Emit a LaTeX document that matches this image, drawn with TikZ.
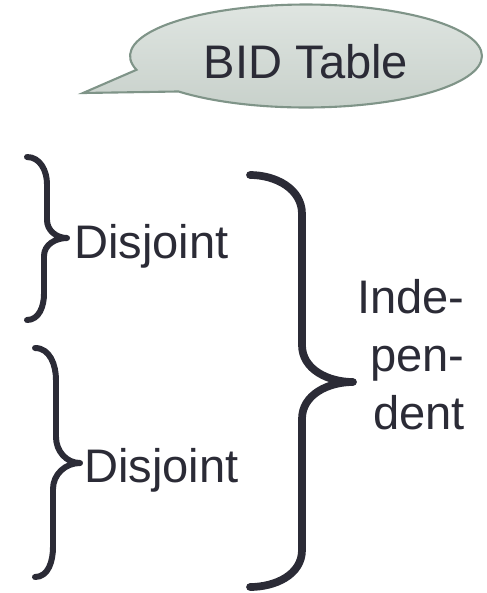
\documentclass[tikz,border=0pt]{standalone}
\usepackage{fontspec}
\setmainfont{Liberation Sans}
\usepackage{xcolor}
\definecolor{ink}{HTML}{2B2B36}
\definecolor{bubbleedge}{HTML}{7F9488}
\definecolor{bubbletop}{HTML}{DFE5E1}
\definecolor{bubblebottom}{HTML}{C7D0CA}
\usetikzlibrary{shapes.callouts,positioning}

\begin{document}
\begin{tikzpicture}[
  x={(0.02cm,0cm)},
  y={(0cm,-0.02cm)},
  brace/.style={ink,line width=3.4pt,line cap=round,line join=round},
  bigbrace/.style={brace,line width=4.4pt},
  word/.style={
    text=ink,
    font=\fontsize{26.8pt}{33pt}\selectfont,
    inner sep=0pt
  },
  bubble/.style={
    ellipse callout,
    draw=bubbleedge,
    line width=1.2pt,
    top color=bubbletop,
    bottom color=bubblebottom,
    minimum width=7.04cm,
    minimum height=2.06cm,
    inner sep=0pt,
    callout pointer arc=28,
    text=ink,
    font=\fontsize{26.8pt}{33pt}\selectfont,
    text height=0.88cm,
    text depth=0cm
  }
]
\useasboundingbox (0,0) rectangle (487,593);

% Speech bubble
\coordinate (Ptip) at (83,93);
\node[bubble,callout absolute pointer={(Ptip)}] (bid) at (306,56) {BID Table};

% Brace tips
\coordinate (TipA) at (67,238);
\coordinate (TipB) at (80,463);
\coordinate (TipC) at (353,382);

% Upper small brace
\draw[brace] (27,157) to[out=0,in=90] (47,184) -- (47,220)
  to[out=-90,in=180] (TipA) to[out=180,in=90] (44,256) -- (44,294)
  to[out=-90,in=0] (27,320);

% Lower small brace
\draw[brace] (35,348) to[out=0,in=90] (56,380) -- (56,437)
  to[out=-90,in=180] (TipB) to[out=180,in=90] (53,489) -- (53,547)
  to[out=-90,in=0] (35,577);

% Big brace
\draw[bigbrace] (250,175) to[out=0,in=90] (302,214) -- (302,345)
  to[out=-90,in=180] (TipC) to[out=180,in=90] (302,419) -- (302,550)
  to[out=-90,in=0] (250,587);

% Labels
\node[word,anchor=base west] (disA) at (74,258) {Disjoint};
\node[word,anchor=base west] (disB) at (84,482) {Disjoint};
\node[word,align=right,anchor=north east] (indep) at (465,279)
  {Inde-\\pen-\\dent};
\end{tikzpicture}
\end{document}
